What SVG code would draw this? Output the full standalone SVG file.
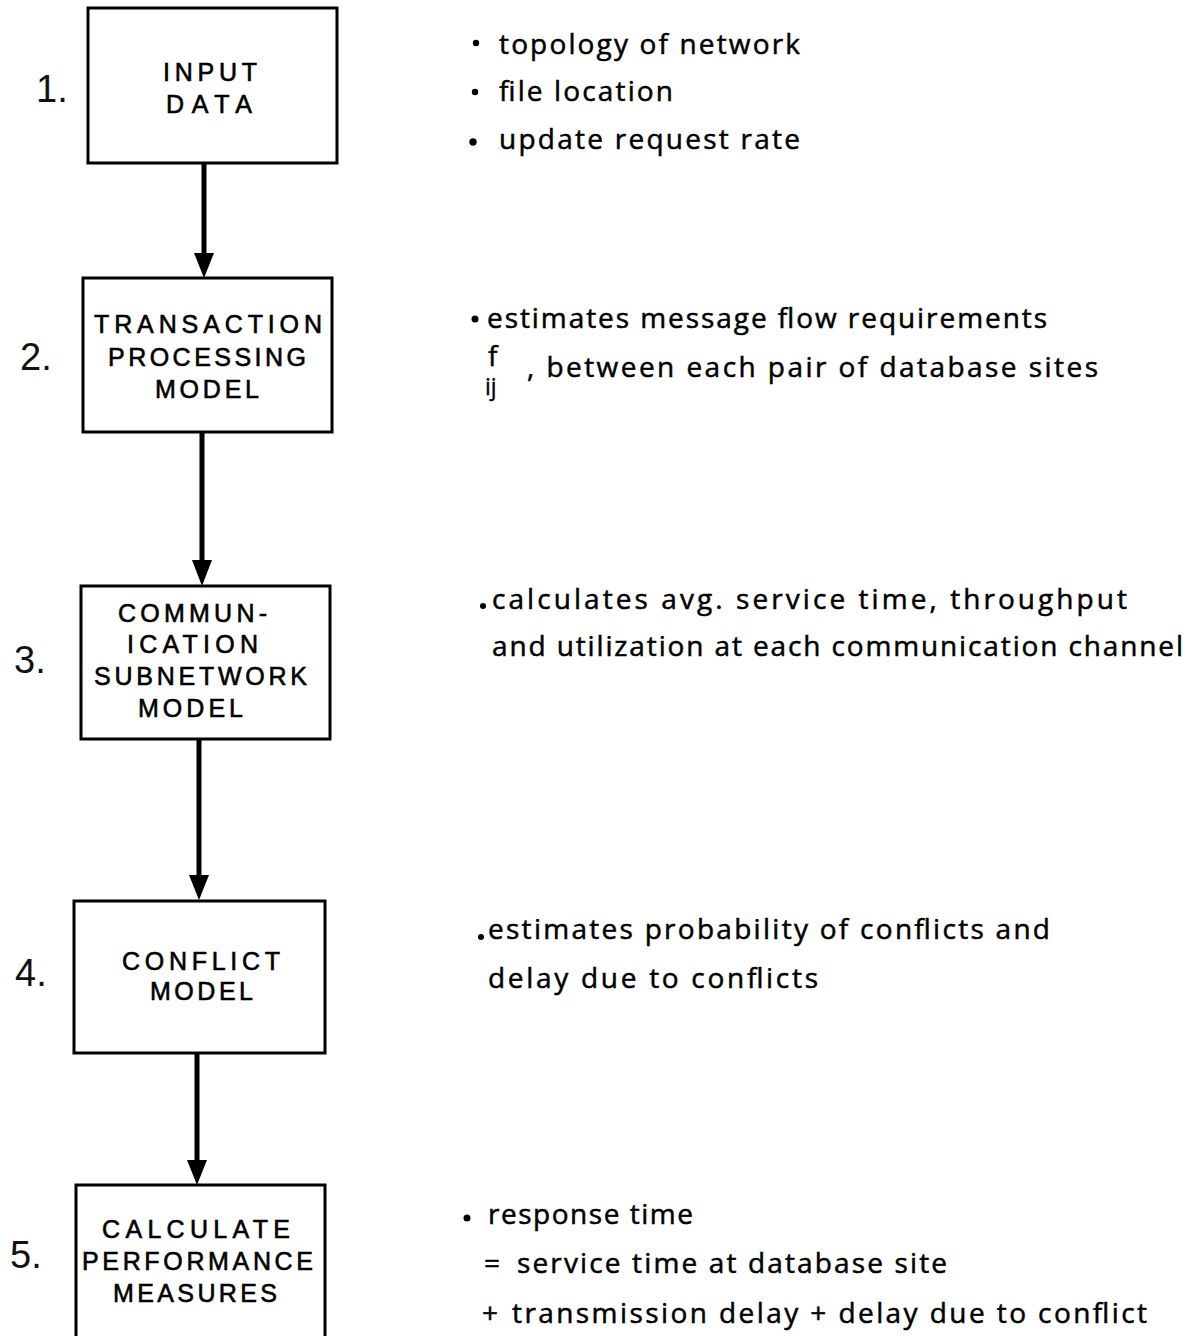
<svg xmlns="http://www.w3.org/2000/svg" width="1193" height="1336" viewBox="0 0 1193 1336">
  <style>
    .box { fill: #ffffff; stroke: #000000; stroke-width: 3; }
    .lbl { font-family: "Liberation Sans", Arial, sans-serif; font-size: 25px; fill: #000000; stroke: #000000; stroke-width: 0.6; }
    .num { font-family: "Liberation Sans", Arial, sans-serif; font-size: 38px; fill: #111111; }
    .note { font-family: "Open Sans", "Liberation Sans", sans-serif; font-size: 28px; fill: #000000; stroke: #000000; stroke-width: 0.5; }
    .sub { font-family: "Open Sans", "Liberation Sans", sans-serif; font-size: 23px; fill: #000000; stroke: #000000; stroke-width: 0.4; }
    .wire { stroke: #000000; stroke-width: 5; fill: none; }
    .head { fill: #000000; }
    .dot { fill: #000000; }
  </style>
  <rect x="0" y="0" width="1193" height="1336" fill="#ffffff"/>

  <!-- flow arrows between the steps -->
  <g id="connectors">
    <line class="wire" x1="204" y1="163" x2="204" y2="256"/>
    <polygon class="head" points="194,253 214,253 204,278"/>
    <line class="wire" x1="202" y1="432" x2="202" y2="563"/>
    <polygon class="head" points="192,560 212,560 202,586"/>
    <line class="wire" x1="199" y1="739" x2="199" y2="878"/>
    <polygon class="head" points="189,875 209,875 199,900"/>
    <line class="wire" x1="197" y1="1053" x2="197" y2="1163"/>
    <polygon class="head" points="187,1160 207,1160 197,1185"/>
  </g>

  <!-- step 1 -->
  <g id="step1">
    <text class="num" x="36" y="102">1.</text>
    <rect class="box" x="88" y="8" width="249" height="155"/>
    <text class="lbl" x="163" y="81" textLength="94" lengthAdjust="spacing">INPUT</text>
    <text class="lbl" x="166" y="113" textLength="86" lengthAdjust="spacing">DATA</text>
  </g>
  <g id="notes1">
    <circle class="dot" cx="476" cy="43" r="3.2"/>
    <text class="note" x="499" y="54" textLength="301" lengthAdjust="spacing">topology of network</text>
    <circle class="dot" cx="475" cy="92" r="3.2"/>
    <text class="note" x="499" y="101" textLength="174" lengthAdjust="spacing">file location</text>
    <circle class="dot" cx="473" cy="142" r="3.7"/>
    <text class="note" x="499" y="149" textLength="301" lengthAdjust="spacing">update request rate</text>
  </g>

  <!-- step 2 -->
  <g id="step2">
    <text class="num" x="20" y="370">2.</text>
    <rect class="box" x="83" y="278" width="249" height="154"/>
    <text class="lbl" x="94" y="333" textLength="228" lengthAdjust="spacing">TRANSACTION</text>
    <text class="lbl" x="108" y="366" textLength="198" lengthAdjust="spacing">PROCESSING</text>
    <text class="lbl" x="155" y="398" textLength="104" lengthAdjust="spacing">MODEL</text>
  </g>
  <g id="notes2">
    <circle class="dot" cx="475" cy="319" r="3.5"/>
    <text class="note" x="487" y="328" textLength="560" lengthAdjust="spacing">estimates message flow requirements</text>
    <text class="note" x="488" y="366">f</text>
    <text class="sub" x="485" y="395">ij</text>
    <text class="note" x="527" y="377" textLength="571" lengthAdjust="spacing">, between each pair of database sites</text>
  </g>

  <!-- step 3 -->
  <g id="step3">
    <text class="num" x="14" y="673">3.</text>
    <rect class="box" x="81" y="586" width="249" height="153"/>
    <text class="lbl" x="118" y="622" textLength="149" lengthAdjust="spacing">COMMUN-</text>
    <text class="lbl" x="127" y="653" textLength="131" lengthAdjust="spacing">ICATION</text>
    <text class="lbl" x="94" y="685" textLength="213" lengthAdjust="spacing">SUBNETWORK</text>
    <text class="lbl" x="138" y="717" textLength="105" lengthAdjust="spacing">MODEL</text>
  </g>
  <g id="notes3">
    <circle class="dot" cx="483" cy="606" r="3"/>
    <text class="note" x="492" y="609" textLength="635" lengthAdjust="spacing">calculates avg. service time, throughput</text>
    <text class="note" x="492" y="656" textLength="691" lengthAdjust="spacing">and utilization at each communication channel</text>
  </g>

  <!-- step 4 -->
  <g id="step4">
    <text class="num" x="15" y="986">4.</text>
    <rect class="box" x="74" y="901" width="251" height="152"/>
    <text class="lbl" x="122" y="970" textLength="158" lengthAdjust="spacing">CONFLICT</text>
    <text class="lbl" x="150" y="1000" textLength="103" lengthAdjust="spacing">MODEL</text>
  </g>
  <g id="notes4">
    <circle class="dot" cx="481" cy="937" r="3"/>
    <text class="note" x="488" y="939" textLength="562" lengthAdjust="spacing">estimates probability of conflicts and</text>
    <text class="note" x="488" y="988" textLength="330" lengthAdjust="spacing">delay due to conflicts</text>
  </g>

  <!-- step 5 -->
  <g id="step5">
    <text class="num" x="10" y="1268">5.</text>
    <rect class="box" x="76" y="1185" width="249" height="170"/>
    <text class="lbl" x="102" y="1238" textLength="188" lengthAdjust="spacing">CALCULATE</text>
    <text class="lbl" x="82" y="1270" textLength="231" lengthAdjust="spacing">PERFORMANCE</text>
    <text class="lbl" x="113" y="1302" textLength="164" lengthAdjust="spacing">MEASURES</text>
  </g>
  <g id="notes5">
    <circle class="dot" cx="467" cy="1218" r="3.5"/>
    <text class="note" x="488" y="1224" textLength="205" lengthAdjust="spacing">response time</text>
    <text class="note" x="484" y="1273">=</text>
    <text class="note" x="517" y="1273" textLength="430" lengthAdjust="spacing">service time at database site</text>
    <text class="note" x="482" y="1323">+</text>
    <text class="note" x="512" y="1323" textLength="635" lengthAdjust="spacing">transmission delay + delay due to conflict</text>
  </g>
</svg>
